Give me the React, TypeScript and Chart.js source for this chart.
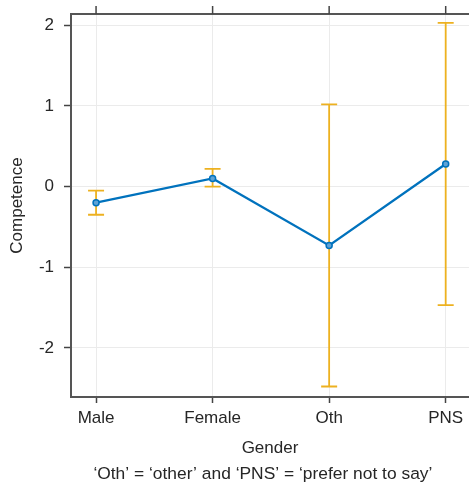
import React, { useEffect, useRef } from 'react';
import { Chart, registerables } from 'chart.js';

Chart.register(...registerables);

const categories = ['Male', 'Female', 'Oth', 'PNS'];
const means = [-0.2, 0.1, -0.73, 0.28];
const upper = [-0.05, 0.22, 1.02, 2.03];
const lower = [-0.35, 0.0, -2.48, -1.47];
const yTicks = [-2, -1, 0, 1, 2];
const xTitle = 'Gender';
const yTitle = 'Competence';
const note = '\u2018Oth\u2019 = \u2018other\u2019 and \u2018PNS\u2019 = \u2018prefer not to say\u2019';

const FONT = '"Liberation Sans", Arial, Helvetica, sans-serif';
const TEXT = '#262626';
const AXIS = '#555555';
const BLUE = '#0072BD';
const ORANGE = '#EDB120';
const FS = 17;

const errorBars = {
  id: 'errorBars',
  beforeDatasetsDraw(chart: any) {
    const { ctx, scales } = chart;
    const x = scales.x;
    const y = scales.y;
    ctx.save();
    ctx.strokeStyle = ORANGE;
    ctx.lineWidth = 1.8;
    categories.forEach((_, i) => {
      const px = x.getPixelForValue(i);
      const pt = y.getPixelForValue(upper[i]);
      const pb = y.getPixelForValue(lower[i]);
      ctx.beginPath();
      ctx.moveTo(px, pt);
      ctx.lineTo(px, pb);
      ctx.moveTo(px - 8, pt);
      ctx.lineTo(px + 8, pt);
      ctx.moveTo(px - 8, pb);
      ctx.lineTo(px + 8, pb);
      ctx.stroke();
    });
    ctx.restore();
  },
};

const frameAndNote = {
  id: 'frameAndNote',
  afterDraw(chart: any) {
    const { ctx, chartArea, scales } = chart;
    const x = scales.x;
    ctx.save();
    ctx.strokeStyle = AXIS;
    ctx.lineWidth = 2;
    ctx.beginPath();
    ctx.moveTo(chartArea.left - 1, chartArea.top);
    ctx.lineTo(chartArea.right, chartArea.top);
    ctx.stroke();
    ctx.lineWidth = 1.5;
    ctx.strokeStyle = '#444';
    categories.forEach((_, i) => {
      const px = x.getPixelForValue(i);
      ctx.beginPath();
      ctx.moveTo(px, chartArea.top);
      ctx.lineTo(px, chartArea.top - 8);
      ctx.stroke();
    });
    ctx.fillStyle = TEXT;
    ctx.font = `17.4px ${FONT}`;
    ctx.textAlign = 'center';
    ctx.textBaseline = 'middle';
    ctx.fillText(note, (x.getPixelForValue(1) + x.getPixelForValue(2)) / 2 - 8, chart.height - 10.5);
    ctx.restore();
  },
};

export default function App() {
  const ref = useRef<HTMLCanvasElement | null>(null);
  useEffect(() => {
    if (!ref.current) return;
    const chart = new Chart(ref.current, {
      type: 'line',
      data: {
        datasets: [
          {
            data: means.map((m, i) => ({ x: i, y: m })),
            borderColor: BLUE,
            borderWidth: 2.3,
            pointRadius: 3,
            pointBorderWidth: 1.5,
            pointBackgroundColor: '#5fa3d6',
            pointBorderColor: BLUE,
            tension: 0,
          },
        ],
      },
      options: {
        responsive: false,
        animation: false,
        layout: { autoPadding: false, padding: { top: 14, left: 0, right: 0, bottom: 21.4 } },
        plugins: {
          legend: { display: false },
          tooltip: { enabled: false },
          title: { display: false },
        },
        scales: {
          x: {
            type: 'linear',
            min: -0.215,
            max: 3.2,
            afterBuildTicks: (axis: any) => {
              axis.ticks = categories.map((_, i) => ({ value: i }));
            },
            afterFit: (scale: any) => {
              scale.height = 66.6;
              scale.paddingLeft = 0;
              scale.paddingRight = 0;
            },
            ticks: {
              autoSkip: false,
              maxRotation: 0,
              padding: 4.8,
              color: TEXT,
              font: { family: FONT, size: FS },
              callback: (v: any) => categories[v as number] ?? '',
            },
            grid: {
              color: '#ebebeb',
              lineWidth: 1,
              drawTicks: true,
              tickLength: 6,
              tickColor: '#444',
              tickWidth: 1.5,
            },
            border: { display: true, color: AXIS, width: 2 },
            title: {
              display: true,
              text: xTitle,
              color: TEXT,
              font: { family: FONT, size: FS },
              padding: { top: 0, bottom: 5.4 },
            },
          },
          y: {
            type: 'linear',
            min: -2.61,
            max: 2.14,
            afterBuildTicks: (axis: any) => {
              axis.ticks = yTicks.map((v) => ({ value: v }));
            },
            afterFit: (scale: any) => {
              scale.width = 71;
              scale.paddingTop = 0;
              scale.paddingBottom = 0;
            },
            ticks: {
              padding: 10,
              color: TEXT,
              font: { family: FONT, size: FS },
              callback: (v: any) => String(v),
            },
            grid: {
              color: '#ebebeb',
              lineWidth: 1,
              drawTicks: true,
              tickLength: 7,
              tickColor: '#444',
              tickWidth: 1.5,
            },
            border: { display: true, color: AXIS, width: 2 },
            title: {
              display: true,
              text: yTitle,
              color: TEXT,
              font: { family: FONT, size: FS },
              padding: { top: 7, bottom: 0 },
            },
          },
        },
      },
      plugins: [errorBars, frameAndNote],
    } as any);
    return () => chart.destroy();
  }, []);
  return (
    <div style={{ position: 'fixed', left: 0, top: 0, width: 469, height: 485, background: '#fff' }}>
      <canvas ref={ref} width={469} height={485} style={{ display: 'block' }} />
    </div>
  );
}
